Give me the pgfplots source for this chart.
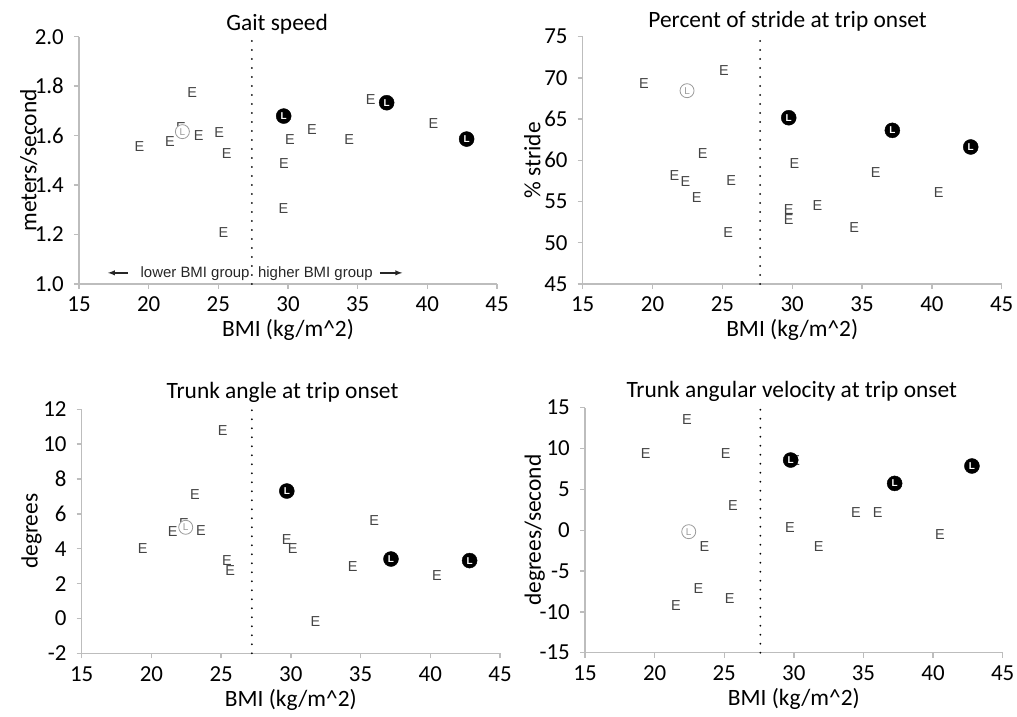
\documentclass[border=0pt]{standalone}
\usepackage{pgfplots}
\pgfplotsset{compat=1.18}
\usepackage{fontspec}
\setmainfont{Carlito}
\newfontfamily\efont{Liberation Sans}
\definecolor{axgray}{HTML}{BDBDBD}
\definecolor{egray}{HTML}{444444}
\definecolor{lgray}{HTML}{9A9A9A}
\pgfplotsset{
  myax/.style={
    scale only axis, clip=false,
    xmin=15, xmax=45, xtick={15,20,...,45},
    axis x line*=bottom, axis y line*=left,
    axis line style={axgray, line width=1.4bp},
    every tick/.style={axgray, line width=1.4bp},
    tick align=outside, major tick length=5bp,
    tick label style={font=\fontsize{23}{23}\selectfont, inner sep=0pt},
    /pgf/number format/assume math mode=true,
    xticklabel style={anchor=base, yshift=-23bp},
    yticklabel style={anchor=east, xshift=-10bp},
    label style={font=\fontsize{23.5}{23.5}\selectfont},
    title style={font=\fontsize{23.5}{23.5}\selectfont, anchor=base},
    xlabel={BMI (kg/m\^{}2)},
    xlabel style={at={(axis description cs:0.5,0)}, anchor=base, yshift=-53bp},
    ylabel style={at={(axis description cs:-0.12,0.5)}, anchor=center},
  },
  Emark/.style={only marks, mark=text, text mark=E, text mark as node=true,
     text mark style={font=\efont\fontsize{14.5}{14.5}\selectfont, text=egray, inner sep=0pt}},
  Lopen/.style={only marks, mark=text, text mark=L, text mark as node=true,
     text mark style={circle, draw=lgray, fill=white, line width=0.8bp, minimum size=14bp, inner sep=0pt, font=\efont\fontsize{10}{10}\selectfont, text=lgray}},
  Lfill/.style={only marks, mark=text, text mark=L, text mark as node=true,
     text mark style={circle, draw=black, fill=black, minimum size=15bp, inner sep=0pt, font=\efont\bfseries\fontsize{10}{10}\selectfont, text=white}},
  dotline/.style={black, line width=2bp, dash pattern=on 0pt off 9bp, line cap=round},
}
\begin{document}
\begin{tikzpicture}
\path[use as bounding box] (0,0) rectangle (1017bp,717bp);
% ---------------- Top left: Gait speed
\begin{axis}[myax, at={(79bp,433bp)}, anchor=south west, width=418bp, height=247.3bp,
  ymin=1, ymax=2, ytick={1.0,1.2,1.4,1.6,1.8,2.0},
  yticklabel style={/pgf/number format/.cd, fixed, fixed zerofill, precision=1},
  title={Gait speed}, title style={at={(axis description cs:0.474,1)}, yshift=0bp},
  ylabel={meters/second}]
\addplot[dotline] coordinates {(27.4,1) (27.4,2)};
\addplot[Emark] coordinates {(19.33,1.555)(21.53,1.575)(23.13,1.774)(23.59,1.602)(25.07,1.613)(25.60,1.528)(25.36,1.209)(29.71,1.488)(29.67,1.306)(30.14,1.585)(31.72,1.623)(34.40,1.586)(35.93,1.744)(40.43,1.650)(22.32,1.633)};
\addplot[Lopen] coordinates {(22.42,1.616)};
\addplot[Lfill] coordinates {(29.69,1.679)(37.08,1.733)(42.82,1.586)};
\node[anchor=base east, inner sep=0pt, font=\efont\fontsize{15}{15}\selectfont, text=black!85] at (axis cs:27.25,1.028) {lower BMI group};
\node[anchor=base west, inner sep=0pt, font=\efont\fontsize{15}{15}\selectfont, text=black!85] at (axis cs:27.84,1.028) {higher BMI group};
\draw[-latex, line width=1.4bp, black!85] (axis cs:18.52,1.045) -- (axis cs:17.08,1.045);
\draw[-latex, line width=1.4bp, black!85] (axis cs:36.6,1.045) -- (axis cs:38.2,1.045);
\end{axis}
% ---------------- Top right: Percent of stride
\begin{axis}[myax, at={(582.7bp,433bp)}, anchor=south west, width=419bp, height=247.3bp,
  ymin=45, ymax=75, ytick={45,50,...,75},
  title={Percent of stride at trip onset}, title style={at={(axis description cs:0.489,1)}, yshift=3.4bp},
  ylabel={\% stride}]
\addplot[dotline] coordinates {(27.7,45) (27.7,75)};
\addplot[Emark] coordinates {(19.39,69.26)(25.12,70.88)(23.59,60.85)(21.56,58.10)(22.35,57.41)(23.16,55.51)(25.64,57.61)(25.41,51.22)(30.16,59.63)(29.75,54.05)(29.75,52.84)(31.80,54.50)(34.43,51.83)(35.98,58.50)(40.49,56.08)};
\addplot[Lopen] coordinates {(22.47,68.45)};
\addplot[Lfill] coordinates {(29.75,65.17)(37.17,63.64)(42.78,61.62)};
\end{axis}
% ---------------- Bottom left: Trunk angle
\begin{axis}[myax, at={(81.7bp,63.7bp)}, anchor=south west, width=418.3bp, height=244bp,
  ymin=-2, ymax=12, ytick={-2,0,...,12},
  title={Trunk angle at trip onset}, title style={at={(axis description cs:0.48,1)}, yshift=5bp},
  ylabel={degrees}]
\addplot[dotline] coordinates {(27.2,-2) (27.2,12)};
\addplot[Emark] coordinates {(25.12,10.78)(23.13,7.09)(21.53,4.98)(23.56,5.02)(19.38,3.99)(25.41,3.30)(25.65,2.74)(29.71,4.50)(30.14,4.03)(35.98,5.61)(34.43,2.97)(40.48,2.48)(31.77,-0.20)(22.34,5.45)};
\addplot[Lopen] coordinates {(22.46,5.23)};
\addplot[Lfill] coordinates {(29.71,7.31)(37.18,3.41)(42.82,3.32)};
\end{axis}
% ---------------- Bottom right: Trunk angular velocity
\begin{axis}[myax, at={(585bp,64.3bp)}, anchor=south west, width=417.7bp, height=245bp,
  ymin=-15, ymax=15, ytick={-15,-10,...,15},
  title={Trunk angular velocity at trip onset}, title style={at={(axis description cs:0.495,1)}, yshift=4bp},
  ylabel={degrees/second}]
\addplot[dotline] coordinates {(27.6,-15) (27.6,15)};
\addplot[Emark] coordinates {(22.33,13.61)(19.36,9.41)(25.10,9.41)(25.63,2.96)(23.57,-1.94)(23.14,-7.12)(21.54,-9.24)(25.39,-8.35)(29.72,0.31)(31.78,-1.94)(34.46,2.18)(36.02,2.18)(40.50,-0.59)(30.09,8.55)};
\addplot[Lopen] coordinates {(22.45,-0.18)};
\addplot[Lfill] coordinates {(29.77,8.59)(37.24,5.73)(42.79,7.86)};
\end{axis}
\end{tikzpicture}
\end{document}
